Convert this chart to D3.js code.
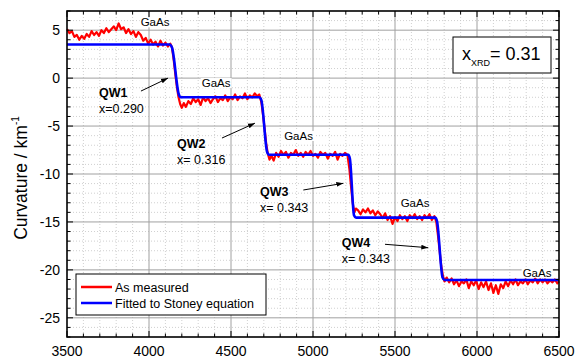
<!DOCTYPE html>
<html>
<head>
<meta charset="utf-8">
<script src="https://cdn.jsdelivr.net/npm/d3@7"></script>
<style>
  body { margin: 0; background: #fff; }
  text { font-family: "Liberation Sans", Arial, sans-serif; }
</style>
</head>
<body>
<div id="chart"></div>
<script>
// measured curvature: [position, curvature in 1/km]
const measured = [
  [3500, 5.1], [3515, 4.7], [3530, 4.9], [3545, 4.3], [3560, 4.5], [3575, 4.0], [3590, 4.4], [3605, 4.1],
  [3620, 4.6], [3635, 4.3], [3650, 4.9], [3665, 4.5], [3680, 4.8], [3695, 4.4], [3710, 5.0], [3725, 4.7],
  [3740, 5.2], [3755, 4.8], [3770, 5.1], [3785, 5.4], [3800, 5.0], [3815, 5.7], [3830, 5.1], [3845, 5.3],
  [3860, 4.7], [3875, 5.1], [3890, 4.6], [3905, 4.9], [3920, 4.3], [3935, 4.8], [3950, 4.5], [3965, 3.9],
  [3980, 4.2], [3995, 3.6], [4010, 4.0], [4025, 3.5], [4040, 3.8], [4055, 3.3], [4070, 3.9], [4085, 3.4],
  [4100, 3.7], [4115, 3.3], [4130, 3.6], [4140, 3.2], [4150, 2.0], [4160, 0.5], [4170, -0.9], [4180, -2.0],
  [4190, -2.7], [4200, -3.1], [4212, -2.6], [4225, -3.0], [4240, -2.4], [4255, -2.7], [4270, -2.1], [4285, -2.5],
  [4300, -2.2], [4315, -2.8], [4330, -2.0], [4345, -2.4], [4360, -2.1], [4375, -2.6], [4390, -2.2], [4405, -1.9],
  [4420, -2.5], [4435, -2.1], [4450, -2.3], [4465, -1.8], [4480, -2.4], [4495, -2.0], [4510, -2.2], [4525, -1.7],
  [4540, -2.3], [4555, -1.9], [4570, -2.1], [4585, -1.6], [4600, -2.2], [4615, -1.8], [4630, -2.0], [4645, -1.6],
  [4660, -1.9], [4672, -1.7], [4685, -2.5], [4695, -3.8], [4705, -5.3], [4715, -6.9], [4725, -7.9], [4735, -8.5],
  [4747, -8.1], [4760, -8.6], [4775, -7.8], [4790, -8.2], [4805, -7.6], [4820, -8.0], [4835, -7.7], [4850, -8.3],
  [4865, -7.8], [4880, -8.0], [4895, -7.5], [4910, -8.1], [4925, -7.8], [4940, -8.2], [4955, -7.7], [4970, -8.0],
  [4985, -7.6], [5000, -8.1], [5015, -7.9], [5030, -8.3], [5045, -7.7], [5060, -8.0], [5075, -7.8], [5090, -8.4],
  [5105, -7.9], [5120, -8.1], [5135, -7.7], [5150, -8.5], [5165, -7.9], [5180, -8.1], [5195, -7.8], [5210, -8.0],
  [5222, -9.5], [5232, -11.3], [5242, -13.0], [5252, -14.0], [5262, -13.6], [5275, -13.8], [5290, -14.2], [5305, -13.7],
  [5320, -14.0], [5335, -13.6], [5350, -14.1], [5365, -13.8], [5380, -14.3], [5395, -13.9], [5410, -14.2], [5425, -14.6],
  [5440, -14.1], [5455, -14.8], [5470, -14.4], [5485, -15.2], [5500, -14.5], [5515, -14.9], [5530, -14.3], [5545, -14.7],
  [5560, -14.4], [5575, -14.9], [5590, -14.3], [5605, -14.6], [5620, -14.2], [5635, -14.7], [5650, -14.4], [5665, -14.8],
  [5680, -14.3], [5695, -14.6], [5710, -14.2], [5725, -14.8], [5740, -14.4], [5752, -15.0], [5762, -16.4], [5772, -18.0],
  [5782, -19.6], [5792, -20.6], [5802, -21.2], [5815, -20.8], [5830, -21.3], [5845, -20.9], [5860, -21.5], [5875, -21.1],
  [5890, -21.7], [5905, -21.2], [5920, -21.4], [5935, -21.0], [5950, -21.9], [5965, -21.2], [5980, -21.6], [5995, -21.1],
  [6010, -22.0], [6025, -21.3], [6040, -21.8], [6055, -21.2], [6070, -22.1], [6085, -21.4], [6100, -22.4], [6115, -21.6],
  [6130, -22.5], [6145, -21.5], [6160, -21.9], [6175, -21.2], [6190, -21.7], [6205, -21.1], [6220, -21.5], [6235, -21.0],
  [6250, -21.6], [6265, -21.2], [6280, -21.4], [6295, -21.0], [6310, -21.5], [6325, -21.1], [6340, -21.3], [6355, -20.9],
  [6370, -21.4], [6385, -21.0], [6400, -21.3], [6415, -21.0], [6430, -21.4], [6445, -21.1], [6460, -21.3], [6475, -21.0],
  [6490, -21.4], [6500, -21.2]
];

// fitted curve (Stoney equation)
const fitX = [3500, 4125, 4140, 4182, 4195, 4672, 4685, 4720, 4732, 5215, 5225, 5250, 5262, 5745, 5756, 5790, 5802, 6500];
const fitY = [3.5, 3.5, 3.2, -1.7, -2.0, -2.0, -2.3, -7.7, -8.0, -8.0, -8.4, -14.3, -14.55, -14.55, -14.9, -20.8, -21.05, -21.05];

const xTicks = [3500, 4000, 4500, 5000, 5500, 6000, 6500];
const yTicks = [-25, -20, -15, -10, -5, 0, 5];

const layers = ["GaAs", "GaAs", "GaAs", "GaAs", "GaAs"];
const layerAt = [[4037, 5.4], [4409, -0.93], [4912, -6.45], [5622, -13.47], [6366, -20.7]];
const wells = ["QW1", "QW2", "QW3", "QW4"];
const wellX = ["x=0.290", "x= 0.316", "x= 0.343", "x= 0.343"];
const wellAt = [[3695, -2.0], [4171, -7.3], [4677, -12.27], [5175, -17.65]];
const arrowFrom = [[3951, -1.35], [4445, -6.25], [4941, -11.67], [5439, -17.33]];
const arrowTo = [[4116, 0.0], [4646, -4.7], [5185, -10.97], [5703, -17.69]];

const legendNames = ["As measured", "Fitted to Stoney equation"];
const legendColors = ["#ff0000", "#0000ff"];

const width = 576;
const height = 361;
const margin = { left: 67, right: 17, top: 11, bottom: 24 };

const svg = d3
  .select("#chart")
  .append("svg")
  .attr("width", width)
  .attr("height", height);

const x = d3.scaleLinear().domain([3500, 6500]).range([margin.left, width - margin.right]);
const y = d3.scaleLinear().domain([-27, 7]).range([height - margin.bottom, margin.top]);

const x0 = margin.left, x1 = width - margin.right;
const y0 = margin.top, y1 = height - margin.bottom;

// minor grid (dotted)
const minorX = d3.range(3600, 6500, 100).filter((d) => d % 500 !== 0);
const minorY = d3.range(-26, 7, 1).filter((d) => d % 5 !== 0);

svg.append("g")
  .selectAll("line")
  .data(minorX)
  .enter()
  .append("line")
  .attr("x1", (d) => x(d)).attr("x2", (d) => x(d))
  .attr("y1", y0).attr("y2", y1)
  .attr("stroke", "#c4c4c4")
  .attr("stroke-width", 0.8)
  .attr("stroke-dasharray", "1,2");

svg.append("g")
  .selectAll("line")
  .data(minorY)
  .enter()
  .append("line")
  .attr("y1", (d) => y(d)).attr("y2", (d) => y(d))
  .attr("x1", x0).attr("x2", x1)
  .attr("stroke", "#c4c4c4")
  .attr("stroke-width", 0.8)
  .attr("stroke-dasharray", "1,2");

// major grid
svg.append("g")
  .selectAll("line")
  .data(xTicks.slice(1, -1))
  .enter()
  .append("line")
  .attr("x1", (d) => x(d)).attr("x2", (d) => x(d))
  .attr("y1", y0).attr("y2", y1)
  .attr("stroke", "#a0a0a0")
  .attr("stroke-width", 1);

svg.append("g")
  .selectAll("line")
  .data(yTicks)
  .enter()
  .append("line")
  .attr("y1", (d) => y(d)).attr("y2", (d) => y(d))
  .attr("x1", x0).attr("x2", x1)
  .attr("stroke", "#a0a0a0")
  .attr("stroke-width", 1);

// data lines
svg.append("path")
  .datum(measured)
  .attr("d", d3.line().x((d) => x(d[0])).y((d) => y(d[1])))
  .attr("fill", "none")
  .attr("stroke", "#ff0000")
  .attr("stroke-width", 2.2)
  .attr("stroke-linejoin", "round");

svg.append("path")
  .datum(d3.zip(fitX, fitY))
  .attr("d", d3.line().x((d) => x(d[0])).y((d) => y(d[1])).curve(d3.curveMonotoneX))
  .attr("fill", "none")
  .attr("stroke", "#0000ff")
  .attr("stroke-width", 2.6);

// ticks pointing inward on all four sides
const axisG = svg.append("g");
d3.range(3500, 6501, 100).forEach((v) => {
  const len = v % 500 === 0 ? 6 : 3.5;
  axisG.append("line").attr("x1", x(v)).attr("x2", x(v)).attr("y1", y1).attr("y2", y1 - len);
  axisG.append("line").attr("x1", x(v)).attr("x2", x(v)).attr("y1", y0).attr("y2", y0 + len);
});
d3.range(-27, 8, 1).forEach((v) => {
  const len = v % 5 === 0 ? 6 : 3.5;
  axisG.append("line").attr("y1", y(v)).attr("y2", y(v)).attr("x1", x0).attr("x2", x0 + len);
  axisG.append("line").attr("y1", y(v)).attr("y2", y(v)).attr("x1", x1).attr("x2", x1 - len);
});
axisG.selectAll("line").attr("stroke", "#000").attr("stroke-width", 1);

svg.append("rect")
  .attr("x", x0).attr("y", y0)
  .attr("width", x1 - x0).attr("height", y1 - y0)
  .attr("fill", "none")
  .attr("stroke", "#000")
  .attr("stroke-width", 1.6);

svg.append("g")
  .selectAll("text")
  .data(xTicks)
  .enter()
  .append("text")
  .attr("x", (d) => x(d))
  .attr("y", y1 + 19)
  .attr("text-anchor", "middle")
  .attr("font-size", 14)
  .text((d) => d);

svg.append("g")
  .selectAll("text")
  .data(yTicks)
  .enter()
  .append("text")
  .attr("x", x0 - 7)
  .attr("y", (d) => y(d) + 5)
  .attr("text-anchor", "end")
  .attr("font-size", 14)
  .text((d) => String(d));

const yTitle = svg.append("text")
  .attr("transform", `translate(27,178) rotate(-90)`)
  .attr("text-anchor", "middle")
  .attr("font-size", 17.5);
yTitle.append("tspan").text("Curvature / km");
yTitle.append("tspan").attr("dy", -8).attr("font-size", 10).text("-1");

// GaAs labels on white backing
layers.forEach((name, i) => {
  const ty = y(layerAt[i][1]);
  const t = svg.append("text")
    .attr("x", x(layerAt[i][0])).attr("y", ty)
    .attr("text-anchor", "middle")
    .attr("font-size", 11.5)
    .text(name);
  const bb = t.node().getBBox();
  svg.insert("rect", () => t.node())
    .attr("x", bb.x - 1).attr("y", bb.y + 1)
    .attr("width", bb.width + 2).attr("height", ty + 1 - (bb.y + 1))
    .attr("fill", "#fff");
});

// quantum well annotations
svg.append("defs")
  .append("marker")
  .attr("id", "arrow")
  .attr("viewBox", "0 0 10 10")
  .attr("refX", 10).attr("refY", 5)
  .attr("markerWidth", 7).attr("markerHeight", 7)
  .attr("markerUnits", "userSpaceOnUse")
  .attr("orient", "auto")
  .append("path")
  .attr("d", "M0,1.5 L10,5 L0,8.5 Z")
  .attr("fill", "#000");

wells.forEach((name, i) => {
  const tx = x(wellAt[i][0]), ty = y(wellAt[i][1]);
  svg.append("text")
    .attr("x", tx).attr("y", ty)
    .attr("font-size", 12.5)
    .attr("font-weight", "bold")
    .text(name);
  svg.append("text")
    .attr("x", tx).attr("y", ty + 16)
    .attr("font-size", 12.5)
    .text(wellX[i]);
  svg.append("line")
    .attr("x1", x(arrowFrom[i][0])).attr("y1", y(arrowFrom[i][1]))
    .attr("x2", x(arrowTo[i][0])).attr("y2", y(arrowTo[i][1]))
    .attr("stroke", "#000")
    .attr("stroke-width", 1)
    .attr("marker-end", "url(#arrow)");
});

// x_XRD box
svg.append("rect")
  .attr("x", 453).attr("y", 37)
  .attr("width", 98).attr("height", 36)
  .attr("fill", "#fff")
  .attr("stroke", "#000")
  .attr("stroke-width", 1);
const xrd = svg.append("text")
  .attr("x", 462).attr("y", 60)
  .attr("font-size", 18);
xrd.append("tspan").text("x");
xrd.append("tspan").attr("dy", 6).attr("font-size", 9).text("XRD");
xrd.append("tspan").attr("dy", -6).text("= 0.31");

// legend
const legend = svg.append("g");
legend.append("rect")
  .attr("x", 76).attr("y", 274)
  .attr("width", 190).attr("height", 41)
  .attr("fill", "#fff")
  .attr("stroke", "#000")
  .attr("stroke-width", 1);
legendNames.forEach((name, i) => {
  const ly = 287 + i * 16;
  legend.append("line")
    .attr("x1", 81).attr("x2", 112)
    .attr("y1", ly).attr("y2", ly)
    .attr("stroke", legendColors[i])
    .attr("stroke-width", 2.5);
  legend.append("text")
    .attr("x", 115).attr("y", ly + 4.5)
    .attr("font-size", 12.5)
    .text(name);
});
</script>
</body>
</html>
